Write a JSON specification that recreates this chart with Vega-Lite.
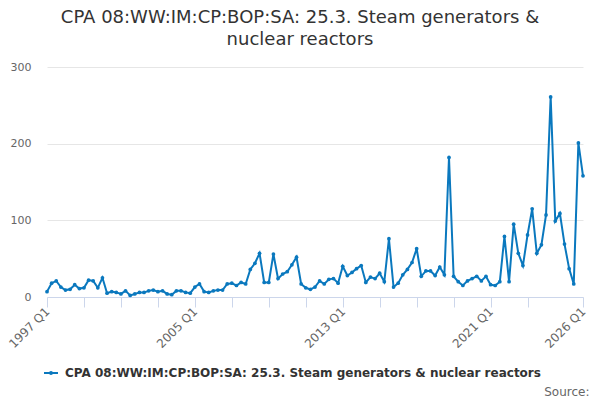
{
  "$schema": "https://vega.github.io/schema/vega-lite/v6.json",
  "description": "CPA 08:WW:IM:CP:BOP:SA: 25.3. Steam generators & nuclear reactors, quarterly.",
  "autosize": "none",
  "width": 536,
  "height": 230,
  "padding": {"left": 47, "top": 67, "right": 17, "bottom": 103},
  "config": {
    "font": "DejaVu Sans",
    "view": {"stroke": null}
  },
  "title": {
    "text": ["CPA 08:WW:IM:CP:BOP:SA: 25.3. Steam generators &", "nuclear reactors"],
    "fontSize": 18,
    "fontWeight": "normal",
    "color": "#333333",
    "lineHeight": 22,
    "offset": 12,
    "dx": -15
  },
  "data": {
    "values": [
      {"quarter": "1997 Q1", "value": 7},
      {"quarter": "1997 Q2", "value": 18},
      {"quarter": "1997 Q3", "value": 21},
      {"quarter": "1997 Q4", "value": 13},
      {"quarter": "1998 Q1", "value": 9},
      {"quarter": "1998 Q2", "value": 10},
      {"quarter": "1998 Q3", "value": 16},
      {"quarter": "1998 Q4", "value": 11},
      {"quarter": "1999 Q1", "value": 12},
      {"quarter": "1999 Q2", "value": 22},
      {"quarter": "1999 Q3", "value": 21},
      {"quarter": "1999 Q4", "value": 12},
      {"quarter": "2000 Q1", "value": 25},
      {"quarter": "2000 Q2", "value": 5},
      {"quarter": "2000 Q3", "value": 7},
      {"quarter": "2000 Q4", "value": 6},
      {"quarter": "2001 Q1", "value": 4},
      {"quarter": "2001 Q2", "value": 8},
      {"quarter": "2001 Q3", "value": 2},
      {"quarter": "2001 Q4", "value": 4},
      {"quarter": "2002 Q1", "value": 6},
      {"quarter": "2002 Q2", "value": 6},
      {"quarter": "2002 Q3", "value": 8},
      {"quarter": "2002 Q4", "value": 9},
      {"quarter": "2003 Q1", "value": 7},
      {"quarter": "2003 Q2", "value": 8},
      {"quarter": "2003 Q3", "value": 4},
      {"quarter": "2003 Q4", "value": 3},
      {"quarter": "2004 Q1", "value": 8},
      {"quarter": "2004 Q2", "value": 8},
      {"quarter": "2004 Q3", "value": 6},
      {"quarter": "2004 Q4", "value": 5},
      {"quarter": "2005 Q1", "value": 13},
      {"quarter": "2005 Q2", "value": 17},
      {"quarter": "2005 Q3", "value": 7},
      {"quarter": "2005 Q4", "value": 6},
      {"quarter": "2006 Q1", "value": 8},
      {"quarter": "2006 Q2", "value": 9},
      {"quarter": "2006 Q3", "value": 9},
      {"quarter": "2006 Q4", "value": 17},
      {"quarter": "2007 Q1", "value": 18},
      {"quarter": "2007 Q2", "value": 15},
      {"quarter": "2007 Q3", "value": 19},
      {"quarter": "2007 Q4", "value": 17},
      {"quarter": "2008 Q1", "value": 36},
      {"quarter": "2008 Q2", "value": 44},
      {"quarter": "2008 Q3", "value": 57},
      {"quarter": "2008 Q4", "value": 19},
      {"quarter": "2009 Q1", "value": 19},
      {"quarter": "2009 Q2", "value": 56},
      {"quarter": "2009 Q3", "value": 24},
      {"quarter": "2009 Q4", "value": 30},
      {"quarter": "2010 Q1", "value": 33},
      {"quarter": "2010 Q2", "value": 42},
      {"quarter": "2010 Q3", "value": 52},
      {"quarter": "2010 Q4", "value": 17},
      {"quarter": "2011 Q1", "value": 12},
      {"quarter": "2011 Q2", "value": 10},
      {"quarter": "2011 Q3", "value": 13},
      {"quarter": "2011 Q4", "value": 21},
      {"quarter": "2012 Q1", "value": 17},
      {"quarter": "2012 Q2", "value": 23},
      {"quarter": "2012 Q3", "value": 24},
      {"quarter": "2012 Q4", "value": 18},
      {"quarter": "2013 Q1", "value": 40},
      {"quarter": "2013 Q2", "value": 28},
      {"quarter": "2013 Q3", "value": 32},
      {"quarter": "2013 Q4", "value": 37},
      {"quarter": "2014 Q1", "value": 41},
      {"quarter": "2014 Q2", "value": 19},
      {"quarter": "2014 Q3", "value": 26},
      {"quarter": "2014 Q4", "value": 24},
      {"quarter": "2015 Q1", "value": 31},
      {"quarter": "2015 Q2", "value": 20},
      {"quarter": "2015 Q3", "value": 76},
      {"quarter": "2015 Q4", "value": 13},
      {"quarter": "2016 Q1", "value": 18},
      {"quarter": "2016 Q2", "value": 29},
      {"quarter": "2016 Q3", "value": 36},
      {"quarter": "2016 Q4", "value": 45},
      {"quarter": "2017 Q1", "value": 63},
      {"quarter": "2017 Q2", "value": 27},
      {"quarter": "2017 Q3", "value": 34},
      {"quarter": "2017 Q4", "value": 34},
      {"quarter": "2018 Q1", "value": 28},
      {"quarter": "2018 Q2", "value": 39},
      {"quarter": "2018 Q3", "value": 29},
      {"quarter": "2018 Q4", "value": 182},
      {"quarter": "2019 Q1", "value": 27},
      {"quarter": "2019 Q2", "value": 20},
      {"quarter": "2019 Q3", "value": 15},
      {"quarter": "2019 Q4", "value": 21},
      {"quarter": "2020 Q1", "value": 24},
      {"quarter": "2020 Q2", "value": 27},
      {"quarter": "2020 Q3", "value": 21},
      {"quarter": "2020 Q4", "value": 27},
      {"quarter": "2021 Q1", "value": 16},
      {"quarter": "2021 Q2", "value": 15},
      {"quarter": "2021 Q3", "value": 20},
      {"quarter": "2021 Q4", "value": 79},
      {"quarter": "2022 Q1", "value": 20},
      {"quarter": "2022 Q2", "value": 95},
      {"quarter": "2022 Q3", "value": 57},
      {"quarter": "2022 Q4", "value": 41},
      {"quarter": "2023 Q1", "value": 81},
      {"quarter": "2023 Q2", "value": 115},
      {"quarter": "2023 Q3", "value": 57},
      {"quarter": "2023 Q4", "value": 68},
      {"quarter": "2024 Q1", "value": 107},
      {"quarter": "2024 Q2", "value": 261},
      {"quarter": "2024 Q3", "value": 99},
      {"quarter": "2024 Q4", "value": 109},
      {"quarter": "2025 Q1", "value": 69},
      {"quarter": "2025 Q2", "value": 37},
      {"quarter": "2025 Q3", "value": 17},
      {"quarter": "2025 Q4", "value": 201},
      {"quarter": "2026 Q1", "value": 158}
    ]
  },
  "mark": {
    "type": "line",
    "strokeWidth": 2,
    "point": {"filled": true, "size": 14}
  },
  "encoding": {
    "x": {
      "field": "quarter",
      "type": "ordinal",
      "sort": null,
      "scale": {"type": "point", "padding": 0},
      "axis": {
        "values": ["1997 Q1", "1999 Q1", "2001 Q1", "2003 Q1", "2005 Q1", "2007 Q1", "2009 Q1", "2011 Q1", "2013 Q1", "2015 Q1", "2017 Q1", "2019 Q1", "2021 Q1", "2023 Q1", "2026 Q1"],
        "labelExpr": "indexof(['1997 Q1', '2005 Q1', '2013 Q1', '2021 Q1', '2026 Q1'], datum.value) >= 0 ? datum.value : ''",
        "labelAngle": -45,
        "labelAlign": "right",
        "labelBaseline": "middle",
        "labelFontSize": 12,
        "labelColor": "#666666",
        "labelPadding": 2,
        "labelOverlap": false,
        "tickSize": 10,
        "tickColor": "#ccd6eb",
        "domainColor": "#ccd6eb",
        "grid": false,
        "title": "Source:",
        "titleAnchor": "end",
        "titleAlign": "right",
        "titleBaseline": "alphabetic",
        "titleX": 542,
        "titleY": 98,
        "titleFontSize": 12,
        "titleFontWeight": "normal",
        "titleColor": "#666666"
      }
    },
    "y": {
      "field": "value",
      "type": "quantitative",
      "scale": {"domain": [0, 300], "nice": false},
      "axis": {
        "values": [0, 100, 200, 300],
        "title": null,
        "domain": false,
        "ticks": false,
        "gridColor": "#e6e6e6",
        "labelColor": "#666666",
        "labelFontSize": 11,
        "labelPadding": 16
      }
    },
    "color": {
      "datum": "CPA 08:WW:IM:CP:BOP:SA: 25.3. Steam generators & nuclear reactors",
      "type": "nominal",
      "scale": {"range": ["#0a78be"]},
      "legend": {
        "title": null,
        "orient": "none",
        "legendX": -4,
        "legendY": 298,
        "padding": 0,
        "symbolType": "M-1,0H1M-0.14,0A0.14,0.14 0 1,0 0.14,0A0.14,0.14 0 1,0 -0.14,0",
        "symbolSize": 196,
        "symbolStrokeWidth": 2,
        "labelFontSize": 12,
        "labelFontWeight": "bold",
        "labelColor": "#333333",
        "labelOffset": 6,
        "labelLimit": 600
      }
    }
  }
}
